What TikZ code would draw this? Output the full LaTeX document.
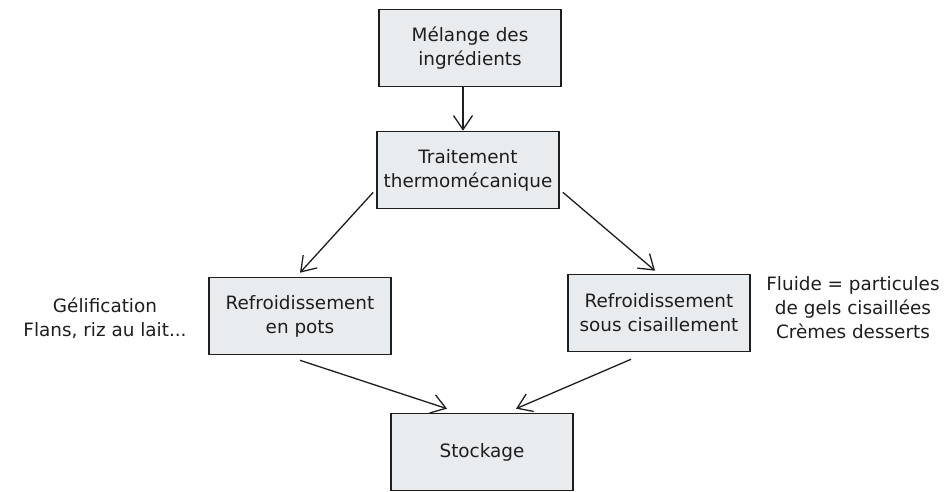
\documentclass[tikz,border=0pt]{standalone}
\usepackage{fontspec}
\setmainfont{DejaVu Sans}
\usepackage{xcolor}
\usepackage{tikz}
\usetikzlibrary{arrows.meta}

\definecolor{boxfill}{HTML}{E9ECEF}
\definecolor{ink}{HTML}{1E1E1E}

\begin{document}
\begin{tikzpicture}[x=1pt,y=-1pt]
	\useasboundingbox (0,0) rectangle (947,492);
	\tikzstyle{every node}=[font=\fontsize{18.4}{24}\selectfont,text=ink,align=center];
	\node (gel) at (105,318) {Gélification\\Flans, riz au lait...};
	\node (flu) at (853,308) {Fluide = particules\\de gels cisaillées\\Crèmes desserts};
	\tikzstyle{box}=[draw=ink,line width=1.6pt,fill=boxfill,minimum width=182pt,minimum height=77pt,inner sep=0pt];
	\tikzstyle{flow}=[draw=ink,line width=1.3pt,-{Straight Barb[length=14pt,width=19pt]}];
	\node[box] (mel) at (470, 48) {Mélange des\\ingrédients};
	\node[box] (tra) at (468,170) {Traitement\\thermomécanique};
	\node[box] (pot) at (300,316) {Refroidissement\\en pots};
	\node[box] (cis) at (659,313) {Refroidissement\\sous cisaillement};
	\node[box] (sto) at (482,452) {Stockage};
	\draw[flow] ([xshift=-7pt]mel.south) -- ([xshift=-5pt]tra.north);
	\draw[flow] ([xshift=-3pt,yshift=17pt]tra.south west) -- ([yshift=4pt]pot.north);
	\draw[flow] ([xshift=3pt,yshift=17pt]tra.south east) -- ([xshift=-4pt,yshift=3pt]cis.north);
	\draw[flow] ([yshift=-5pt]pot.south) -- ([xshift=-35pt,yshift=4pt]sto.north);
	\draw[flow] ([xshift=-28pt,yshift=-7pt]cis.south) -- ([xshift=34pt,yshift=4pt]sto.north);
\end{tikzpicture}
\end{document}
